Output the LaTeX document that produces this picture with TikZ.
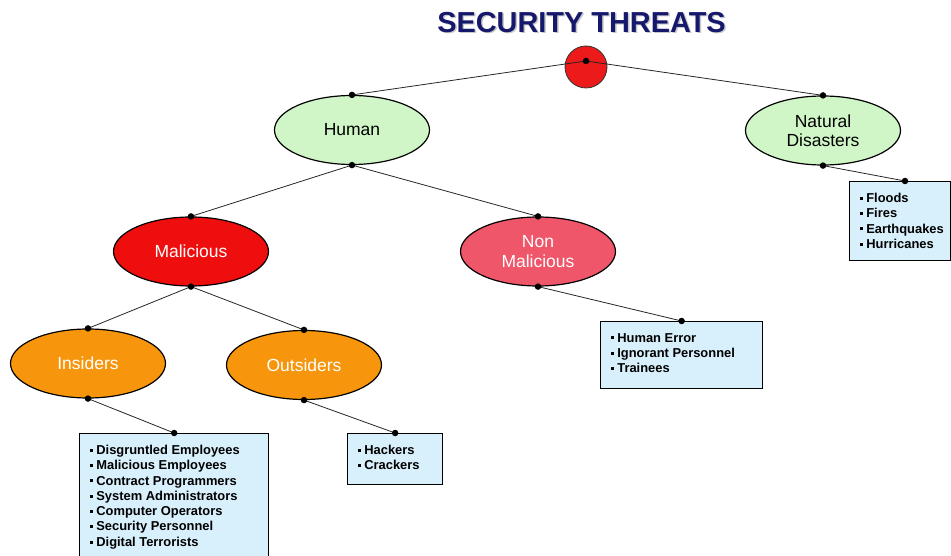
\documentclass[tikz,border=0pt]{standalone}
\usepackage{fontspec}
\setmainfont{Liberation Sans}
\usetikzlibrary{shapes.geometric}
\definecolor{navy}{RGB}{22,24,108}
\definecolor{humgreen}{RGB}{208,246,200}
\definecolor{malred}{RGB}{238,14,14}
\definecolor{nonred}{RGB}{240,86,106}
\definecolor{orng}{RGB}{247,150,12}
\definecolor{boxblue}{RGB}{216,239,252}
\definecolor{rootred}{RGB}{236,26,26}
\newcommand{\bitem}[1]{\mbox{\rule[2.7pt]{3pt}{3pt}\hspace{3.2pt}#1}}
\newcommand{\blist}[3]{\parbox[t][#2][t]{#1}{\fontsize{12.9}{15.3}\selectfont\bfseries #3}}
\begin{document}
\begin{tikzpicture}[x=1pt,y=-1pt,
  ell/.style={ellipse, draw=black, line width=1.2pt, minimum width=155pt, minimum height=69pt,
    inner sep=0pt, align=center, font=\fontsize{17.5}{19.5}\selectfont},
  dot/.style={circle, fill=black, inner sep=0pt, minimum size=6.5pt},
  conn/.style={draw=black!85, line width=0.8pt},
  box/.style={draw=black, line width=1.3pt, fill=boxblue, anchor=north west,
    inner xsep=10.5pt, inner ysep=11.5pt}]
\useasboundingbox (0,0) rectangle (951,556);
% title
\node[font=\fontsize{28.9}{30}\selectfont\bfseries, text=black!22] (tshadow) at (583,24) {SECURITY THREATS};
\node[font=\fontsize{28.9}{30}\selectfont\bfseries, text=navy] (title) at (581.5,22.5) {SECURITY THREATS};
% root
\node[circle, draw=black!80, line width=0.8pt, fill=rootred, minimum size=42pt, inner sep=0pt] (root) at (586,67) {};
\coordinate (rootdot) at (586,61);
% ellipses
\node[ell, fill=humgreen] (human) at (352,130) {Human};
\node[ell, fill=humgreen] (natural) at (823,130.5) {Natural\\Disasters};
\node[ell, fill=malred, text=white] (mal) at (191,251.5) {Malicious};
\node[ell, fill=nonred, text=white] (nonmal) at (538,251.5) {Non\\Malicious};
\node[ell, fill=orng, text=white] (ins) at (88,363.5) {Insiders};
\node[ell, fill=orng, text=white] (outs) at (304,365) {Outsiders};
% boxes
\node[box] (bnat) at (849,181) {\blist{80pt}{56pt}{\bitem{Floods}\\\bitem{Fires}\\\bitem{Earthquakes}\\\bitem{Hurricanes}}};
\node[box] (bnon) at (600,321) {\blist{141pt}{44pt}{\bitem{Human Error}\\\bitem{Ignorant Personnel}\\\bitem{Trainees}}};
\node[box] (bout) at (347,433) {\blist{74pt}{28pt}{\bitem{Hackers}\\\bitem{Crackers}}};
\node[box] (bins) at (79,433) {\blist{168pt}{140pt}{\bitem{Disgruntled Employees}\\\bitem{Malicious Employees}\\\bitem{Contract Programmers}\\\bitem{System Administrators}\\\bitem{Computer Operators}\\\bitem{Security Personnel}\\\bitem{Digital Terrorists}}};
\coordinate (bnattop) at (905,181);
% connectors
\draw[conn] (rootdot) -- (human.north);
\draw[conn] (rootdot) -- (natural.north);
\draw[conn] (human.south) -- (mal.north);
\draw[conn] (human.south) -- (nonmal.north);
\draw[conn] (mal.south) -- (ins.north);
\draw[conn] (mal.south) -- (outs.north);
\draw[conn] (ins.south) -- (bins.north);
\draw[conn] (outs.south) -- (bout.north);
\draw[conn] (nonmal.south) -- (bnon.north);
\draw[conn] (natural.south) -- (bnattop);
% dots
\foreach \p in {rootdot, human.north, human.south, natural.north, natural.south,
  mal.north, mal.south, nonmal.north, nonmal.south, ins.north, ins.south,
  outs.north, outs.south, bins.north, bout.north, bnon.north, bnattop}
  \node[dot] at (\p) {};
\end{tikzpicture}
\end{document}
